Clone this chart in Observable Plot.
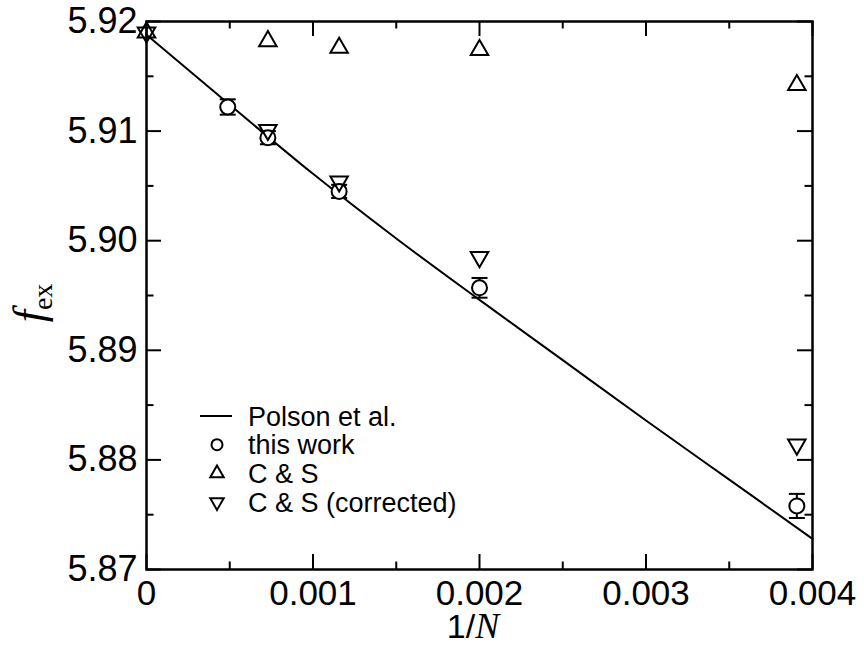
<!DOCTYPE html>
<html>
<head>
<meta charset="utf-8">
<script src="https://cdn.jsdelivr.net/npm/d3@7"></script>
<script src="https://cdn.jsdelivr.net/npm/@observablehq/plot@0.6"></script>
<style>
  html, body { margin: 0; padding: 0; background: #fff; }
  #wrap { position: relative; width: 864px; height: 645px; }
  #legend { position: absolute; left: 0; top: 0; pointer-events: none; }
</style>
</head>
<body>
<div id="wrap"></div>
<script>
// ---- data ----
const invN        = [0.000488, 0.000729, 0.001157, 0.002, 0.003906];
const thisWork    = [5.9122, 5.9094, 5.9045, 5.8957, 5.8758];
const thisWorkErr = [0.0007, 0.0006, 0.0006, 0.0009, 0.0011];

const csX         = [0, 0.000729, 0.001157, 0.002, 0.003906];
const csRaw       = [5.9190, 5.9182, 5.9176, 5.9174, 5.9142];
const csCorrected = [5.9190, 5.9101, 5.9054, 5.8985, 5.8814];

const polsonX = [0, 0.0005, 0.001, 0.0015, 0.002, 0.0025, 0.003, 0.0035, 0.004];
const polsonY = [5.9188, 5.9124, 5.9061, 5.9002, 5.8946, 5.8891, 5.8836, 5.8782, 5.8728];

const xMajor = [0, 0.001, 0.002, 0.003, 0.004];
const xMajorLabels = ["0", "0.001", "0.002", "0.003", "0.004"];
const xMinor = [0.0005, 0.0015, 0.0025, 0.0035];
const yMajor = [5.87, 5.88, 5.89, 5.90, 5.91, 5.92];
const yMajorLabels = ["5.87", "5.88", "5.89", "5.90", "5.91", "5.92"];
const yMinor = [5.875, 5.885, 5.895, 5.905, 5.915];

const legendItems = ["Polson et al.", "this work", "C & S", "C & S (corrected)"];

// ---- tables ----
const work = invN.map((x, i) => ({x, y: thisWork[i], e: thisWorkErr[i]}));
const cs = csX.map((x, i) => ({x, y: csRaw[i]}));
const csc = csX.map((x, i) => ({x, y: csCorrected[i]}));
const polson = polsonX.map((x, i) => ({x, y: polsonY[i]}));

// ---- layout ----
const W = 864, H = 645;
const mL = 146, mR = 52, mT = 21, mB = 76;
const pw = W - mL - mR, ph = H - mT - mB;
const majorLen = 15, minorLen = 7.5;
const sans = "'Liberation Sans', Arial, Helvetica, sans-serif";
const serif = "'Liberation Serif', 'Times New Roman', serif";

const capSymbol = { draw(ctx) { ctx.moveTo(-8, 0); ctx.lineTo(8, 0); } };

const chart = Plot.plot({
  width: W, height: H,
  marginLeft: mL, marginRight: mR, marginTop: mT, marginBottom: mB,
  style: { fontFamily: sans, background: "#fff", color: "#000" },
  x: { domain: [0, 0.004], axis: null },
  y: { domain: [5.87, 5.92], axis: null },
  marks: [
    // inward ticks on all four sides
    Plot.tickX(xMajor, { x: d => d, insetTop: ph - majorLen, strokeWidth: 2 }),
    Plot.tickX(xMajor, { x: d => d, insetBottom: ph - majorLen, strokeWidth: 2 }),
    Plot.tickX(xMinor, { x: d => d, insetTop: ph - minorLen, strokeWidth: 2 }),
    Plot.tickX(xMinor, { x: d => d, insetBottom: ph - minorLen, strokeWidth: 2 }),
    Plot.tickY(yMajor, { y: d => d, insetRight: pw - majorLen, strokeWidth: 2 }),
    Plot.tickY(yMajor, { y: d => d, insetLeft: pw - majorLen, strokeWidth: 2 }),
    Plot.tickY(yMinor, { y: d => d, insetRight: pw - minorLen, strokeWidth: 2 }),
    Plot.tickY(yMinor, { y: d => d, insetLeft: pw - minorLen, strokeWidth: 2 }),
    // tick labels
    Plot.axisX({ ticks: xMajor, tickSize: 0, tickPadding: 11, fontSize: 35,
      tickFormat: d => xMajorLabels[xMajor.indexOf(d)], label: null }),
    Plot.axisY({ ticks: yMajor, tickSize: 0, tickPadding: 9, fontSize: 36,
      tickFormat: d => yMajorLabels[yMajor.findIndex(v => Math.abs(v - d) < 1e-9)], label: null }),
    // Polson et al. curve
    Plot.line(polson, { x: "x", y: "y", stroke: "black", strokeWidth: 2, curve: "monotone-x" }),
    // error bars for this work
    Plot.ruleX(work, { x: "x", y1: d => d.y - d.e, y2: d => d.y + d.e, stroke: "black", strokeWidth: 2 }),
    Plot.dot(work, { x: "x", y: d => d.y - d.e, symbol: capSymbol, r: 8, stroke: "black", strokeWidth: 2, fill: "none" }),
    Plot.dot(work, { x: "x", y: d => d.y + d.e, symbol: capSymbol, r: 8, stroke: "black", strokeWidth: 2, fill: "none" }),
    // markers
    Plot.dot(work, { x: "x", y: "y", symbol: "circle", r: 7.5, stroke: "black", strokeWidth: 2, fill: "white" }),
    Plot.dot(cs, { x: "x", y: "y", symbol: "triangle", r: 6.5, stroke: "black", strokeWidth: 2, fill: "none" }),
    Plot.dot(csc, { x: "x", y: "y", symbol: "triangle", rotate: 180, r: 6.5, stroke: "black", strokeWidth: 2, fill: "none" }),
    Plot.frame({ stroke: "black", strokeWidth: 2.5 })
  ]
});

const wrap = document.getElementById("wrap");
wrap.appendChild(chart);

// axis titles with mixed fonts
const svg = d3.select(chart.tagName.toLowerCase() === "svg" ? chart : chart.querySelector("svg"));
const xt = svg.append("text")
  .attr("x", mL + pw / 2 - 6).attr("y", H - 7)
  .attr("text-anchor", "middle").attr("fill", "black");
xt.append("tspan").attr("font-family", sans).attr("font-size", 34).text("1/");
xt.append("tspan").attr("font-family", serif).attr("font-style", "italic").attr("font-size", 36).text("N");

const yt = svg.append("text")
  .attr("transform", `translate(44, ${mT + ph / 2 + 8}) rotate(-90)`)
  .attr("text-anchor", "middle").attr("fill", "black");
yt.append("tspan").attr("font-family", serif).attr("font-style", "italic").attr("font-size", 44).text("f");
yt.append("tspan").attr("font-family", serif).attr("font-size", 28).attr("dy", 8).text("ex");

// legend overlay
const lg = d3.select(wrap).append("svg").attr("id", "legend")
  .attr("width", W).attr("height", H);
const lx = 217, ly0 = 416, lstep = 28.7, ltx = 248;
legendItems.forEach((name, i) => {
  const cy = ly0 + i * lstep;
  if (i === 0) {
    lg.append("line").attr("x1", lx - 17).attr("x2", lx + 15).attr("y1", cy).attr("y2", cy)
      .attr("stroke", "black").attr("stroke-width", 2);
  } else {
    const sym = i === 1 ? d3.symbolCircle : d3.symbolTriangle;
    const size = i === 1 ? Math.PI * 5.5 * 5.5 : Math.PI * 5 * 5;
    lg.append("path").attr("d", d3.symbol(sym, size)())
      .attr("transform", `translate(${lx},${cy})${i === 3 ? " rotate(180)" : ""}`)
      .attr("fill", "none").attr("stroke", "black").attr("stroke-width", 2);
  }
  lg.append("text").attr("x", ltx).attr("y", cy).attr("dy", "0.36em")
    .attr("font-family", sans).attr("font-size", 27).attr("fill", "black").text(name);
});
</script>
</body>
</html>
